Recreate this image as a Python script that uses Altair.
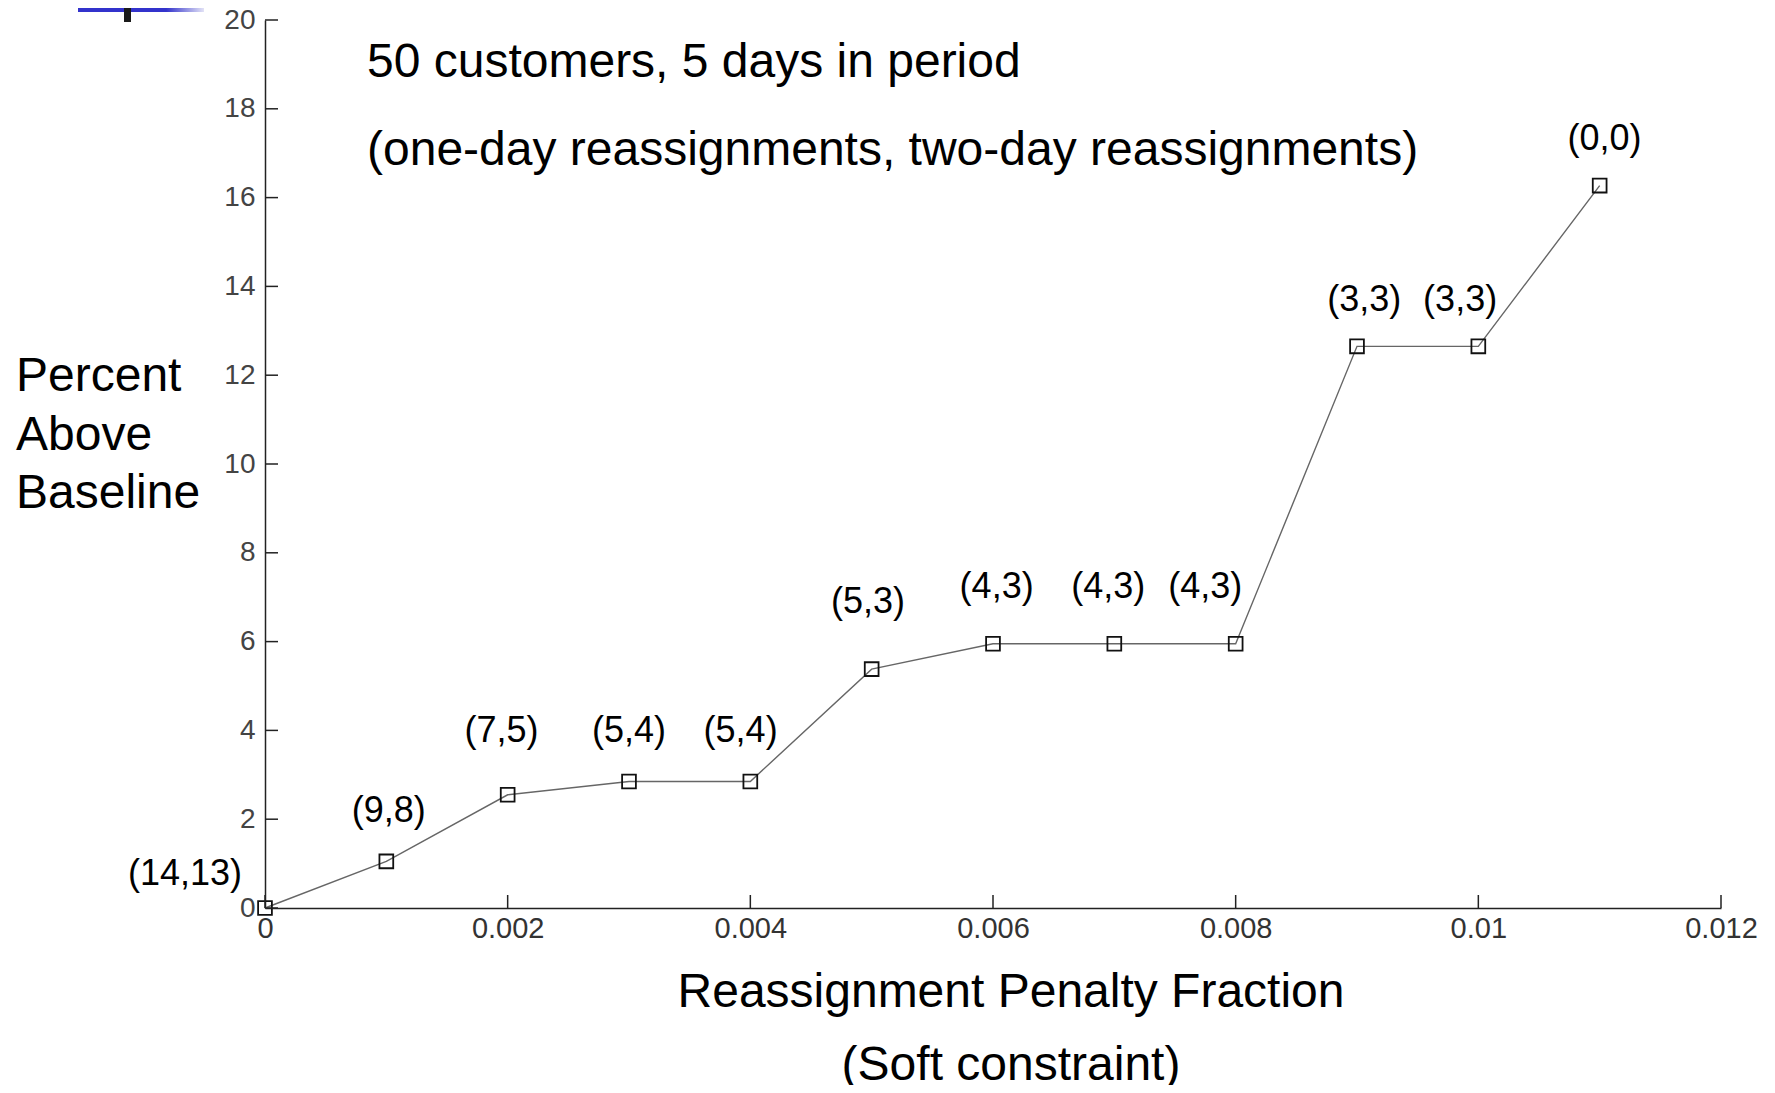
import altair as alt
import pandas as pd

FONT = "Liberation Sans, Arial, Helvetica, sans-serif"

# ---- data ----
penalty = [0.0, 0.001, 0.002, 0.003, 0.004, 0.005, 0.006, 0.007, 0.008, 0.009, 0.010, 0.011]
percent = [0.0, 1.05, 2.55, 2.85, 2.85, 5.38, 5.95, 5.95, 5.95, 12.65, 12.65, 16.27]
labels = ["(14,13)", "(9,8)", "(7,5)", "(5,4)", "(5,4)", "(5,3)",
          "(4,3)", "(4,3)", "(4,3)", "(3,3)", "(3,3)", "(0,0)"]
label_x = [-0.00066, 0.00102, 0.00195, 0.00300, 0.00392, 0.00497,
           0.00603, 0.00695, 0.00775, 0.00906, 0.00985, 0.01104]
label_y = [0.77, 2.19, 3.98, 3.98, 3.98, 6.89, 7.24, 7.24, 7.24, 13.70, 13.70, 17.32]
x_ticks = [0, 0.002, 0.004, 0.006, 0.008, 0.01, 0.012]
y_ticks = [0, 2, 4, 6, 8, 10, 12, 14, 16, 18, 20]
header_text = "50 customers, 5 days in period\n(one-day reassignments, two-day reassignments)"
y_title_text = "Percent\nAbove\nBaseline"
x_title_text = "Reassignment Penalty Fraction\n(Soft constraint)"

W, H = 1456, 888

df = pd.DataFrame({"penalty": penalty, "percent": percent})
df_lab = pd.DataFrame({"lx": label_x, "ly": label_y, "label": labels})
df_xt = pd.DataFrame({"t": x_ticks})
df_yt = pd.DataFrame({"t": y_ticks})
one = pd.DataFrame({"a": [0]})

xs = alt.Scale(domain=[0, 0.012], nice=False, zero=False)
ys = alt.Scale(domain=[0, 20], nice=False, zero=False)

x_axis = alt.Axis(values=x_ticks, format="~g", title=None, ticks=False, grid=False,
                  labelFontSize=29, labelFont=FONT, labelColor="#333", labelPadding=6,
                  labelFlush=False, labelOverlap=False,
                  domainColor="#222", domainWidth=1.5)
y_axis = alt.Axis(values=y_ticks, format="d", title=None, ticks=False, grid=False,
                  labelFontSize=28, labelFont=FONT, labelColor="#444", labelPadding=10,
                  labelFlush=False, labelOverlap=False,
                  domainColor="#222", domainWidth=1.5)

line = alt.Chart(df).mark_line(color="#666", strokeWidth=1.4).encode(
    x=alt.X("penalty:Q", scale=xs, axis=x_axis),
    y=alt.Y("percent:Q", scale=ys, axis=y_axis),
)

points = alt.Chart(df).mark_point(shape="square", filled=False, size=190,
                                  strokeWidth=1.8, color="#111", opacity=1).encode(
    x=alt.X("penalty:Q", scale=xs),
    y=alt.Y("percent:Q", scale=ys),
)

text_labels = alt.Chart(df_lab).mark_text(fontSize=36, font=FONT, color="#000",
                                          align="center", baseline="middle").encode(
    x=alt.X("lx:Q", scale=xs),
    y=alt.Y("ly:Q", scale=ys),
    text="label:N",
)

# inward ticks
x_tick_marks = alt.Chart(df_xt).mark_rule(color="#222", strokeWidth=1.5).encode(
    x=alt.X("t:Q", scale=xs),
    y=alt.value(H),
    y2=alt.value(H - 13),
)
y_tick_marks = alt.Chart(df_yt).mark_rule(color="#222", strokeWidth=1.5).encode(
    y=alt.Y("t:Q", scale=ys),
    x=alt.value(0),
    x2=alt.value(13),
)

header = alt.Chart(one).mark_text(text=header_text, lineBreak="\n", lineHeight=87.6,
                                  fontSize=48, font=FONT, color="#000",
                                  align="left", baseline="middle").encode(
    x=alt.value(102), y=alt.value(43))

y_title = alt.Chart(one).mark_text(text=y_title_text, lineBreak="\n", lineHeight=58.5,
                                   fontSize=48, font=FONT, color="#000",
                                   align="left", baseline="middle").encode(
    x=alt.value(-249), y=alt.value(357))

x_title = alt.Chart(one).mark_text(text=x_title_text, lineBreak="\n", lineHeight=73,
                                   fontSize=48, font=FONT, color="#000",
                                   align="center", baseline="middle").encode(
    x=alt.value(746), y=alt.value(973))

# slide decoration at top-left
deco_bar = alt.Chart(one).mark_rect(color={
    "gradient": "linear", "x1": 0, "x2": 1, "y1": 0, "y2": 0,
    "stops": [{"offset": 0, "color": "#3333cc"},
              {"offset": 0.7, "color": "#3333cc"},
              {"offset": 1, "color": "#e2e2f6"}]}).encode(
    x=alt.value(-187), x2=alt.value(-61), y=alt.value(-12), y2=alt.value(-8))
deco_tick = alt.Chart(one).mark_rect(color="#1a1a1a").encode(
    x=alt.value(-141), x2=alt.value(-134), y=alt.value(-12), y2=alt.value(2))

chart = alt.layer(
    line, points, text_labels, x_tick_marks, y_tick_marks,
    header, y_title, x_title, deco_bar, deco_tick
).properties(
    width=W, height=H,
    autosize=alt.AutoSizeParams(type="none"),
    padding={"left": 257, "top": 12, "right": 46, "bottom": 177},
    background="white",
).configure_view(stroke=None)

chart.save("out.html", embed_options={"renderer": "svg", "actions": False})
